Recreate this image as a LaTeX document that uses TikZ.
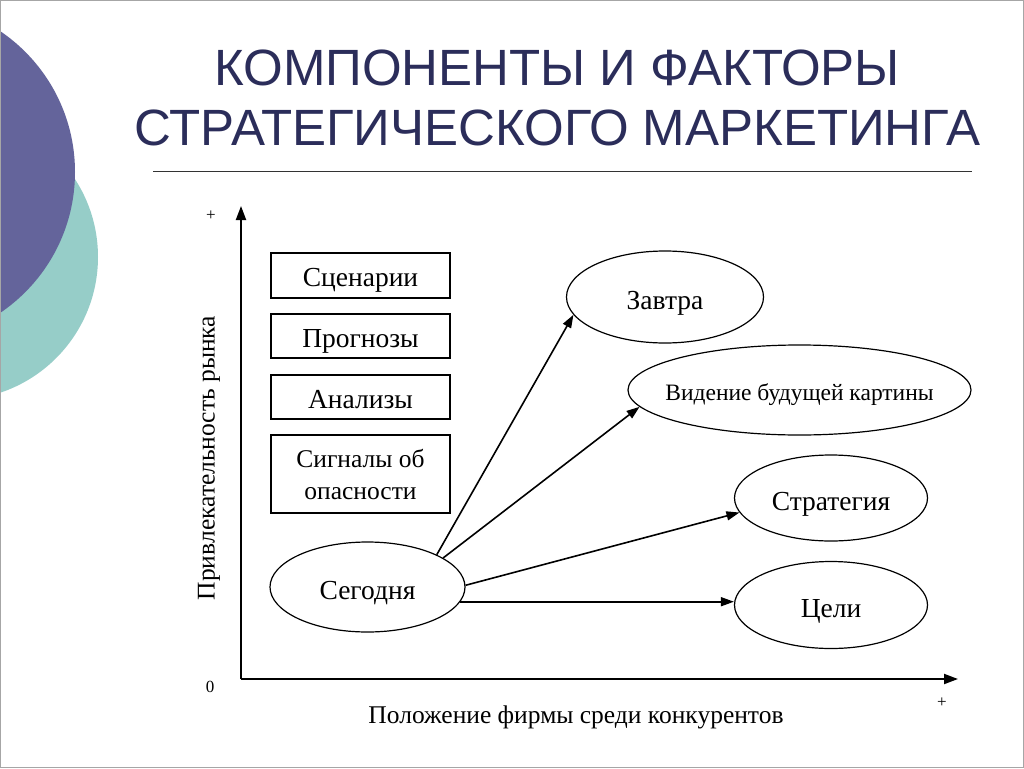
\documentclass[tikz,border=0pt]{standalone}
\usepackage{fontspec}
\setmainfont{Liberation Serif}
\newfontfamily\titlefont{Liberation Sans}
\usetikzlibrary{arrows.meta,shapes.geometric}
\definecolor{purplec}{RGB}{100,100,155}
\definecolor{tealc}{RGB}{150,205,200}
\definecolor{titlec}{RGB}{43,45,90}
\tikzset{
  box/.style={draw, line width=1.2pt, minimum width=179pt, inner sep=0pt, align=center, font=\fontsize{27.5}{30}\selectfont},
  oval/.style={draw, ellipse, line width=1.2pt, inner sep=0pt, text height=24pt, text depth=0pt, font=\fontsize{27.5}{30}\selectfont},
  conn/.style={line width=1.6pt, -{Triangle[length=13pt,width=9pt]}},
  axis/.style={line width=2pt, -{Triangle[length=14pt,width=10pt]}},
  small/.style={font=\fontsize{17}{19}\selectfont, inner sep=0pt}
}
\begin{document}
\begin{tikzpicture}[x=1pt,y=-1pt]
\useasboundingbox (0,0) rectangle (1024,768);
\fill[white] (0,0) rectangle (1024,768);
% decorative circles
\begin{scope}
\clip (0,0) rectangle (1024,768);
\fill[tealc] (-45,257) circle (143);
\fill[purplec] (-95,172) circle (170);
\end{scope}
\draw[gray!70, line width=1.2pt] (0.6,0.6) rectangle (1023.4,767.4);
% title
\node[text=titlec, font=\titlefont\fontsize{51}{55}\selectfont] (t1) at (557,68) {КОМПОНЕНТЫ И ФАКТОРЫ};
\node[text=titlec, font=\titlefont\fontsize{51}{55}\selectfont] (t2) at (557,128) {СТРАТЕГИЧЕСКОГО МАРКЕТИНГА};
\coordinate (l1) at (153,171);
\coordinate (l2) at (972,171);
\draw[black!80, line width=1pt] (l1) -- (l2);
% axes
\coordinate (o) at (241,679);
\coordinate (ytop) at (241,206);
\coordinate (xend) at (958,679);
\draw[axis] (o) -- (ytop);
\draw[axis] (o) -- (xend);
\node[small] (yplus) at (211,216) {+};
\node[small] (zero) at (210,687) {0};
\node[small] (xplus) at (942,703) {+};
\node[rotate=90, font=\fontsize{25.5}{28}\selectfont] (ylab) at (209,458) {Привлекательность рынка};
\node[font=\fontsize{25.5}{28}\selectfont] (xlab) at (576,717) {Положение фирмы среди конкурентов};
% boxes
\node[box, minimum height=45pt, text height=22pt, text depth=0pt] (b1) at (360.5,275.5) {Сценарии};
\node[box, minimum height=44pt, text height=22pt, text depth=0pt] (b2) at (360.5,336) {Прогнозы};
\node[box, minimum height=44pt, text height=22pt, text depth=0pt] (b3) at (360.5,397) {Анализы};
\node[box, minimum height=78pt, font=\fontsize{25.5}{32}\selectfont] (b4) at (360.5,474) {Сигналы об\\опасности};
% ellipses
\node[oval, minimum width=195pt, minimum height=90pt] (seg) at (367.5,587) {Сегодня};
\node[oval, minimum width=197pt, minimum height=92pt] (zav) at (665,297) {Завтра};
\node[oval, minimum width=343pt, minimum height=90pt, inner xsep=-16pt, text height=20pt, font=\fontsize{23.5}{26}\selectfont] (vid) at (799.5,390) {Видение будущей картины};
\node[oval, minimum width=193pt, minimum height=86pt] (str) at (831,498) {Стратегия};
\node[oval, minimum width=193pt, minimum height=87pt] (cel) at (831,605) {Цели};
% connectors
\draw[conn] (seg.25) -- (zav.191);
\draw[conn] (seg.21) -- (vid.186);
\draw[conn] (seg.1) -- (str.189);
\draw[conn] (seg.-9) -- (seg.-9 -| cel.west);
\end{tikzpicture}
\end{document}
